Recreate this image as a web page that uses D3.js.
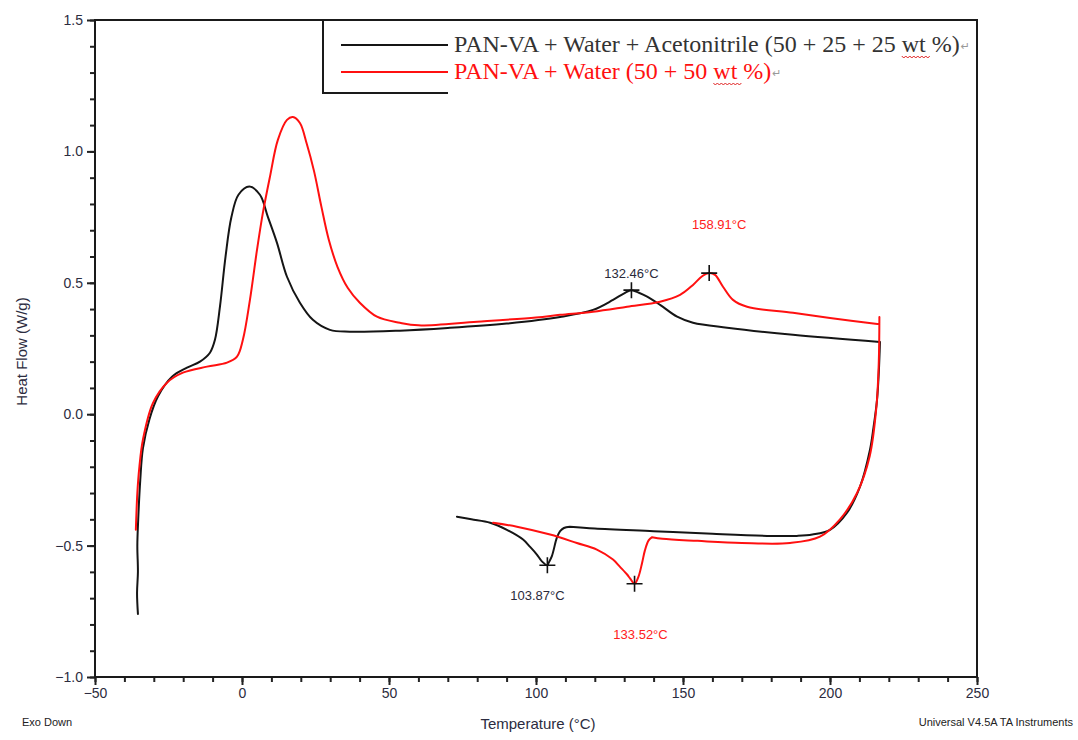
<!DOCTYPE html>
<html>
<head>
<meta charset="utf-8">
<script src="https://cdn.jsdelivr.net/npm/d3@7"></script>
<style>
  body { margin: 0; background: #fff; }
  svg { display: block; }
  .tick text { font-family: Arial, "Liberation Sans", sans-serif; }
</style>
</head>
<body>
<div id="chart"></div>
<script>
// PAN-VA + Water + Acetonitrile, heating run [temperature °C, heat flow W/g]
const acnHeating = [
    [-35.4, -0.76], [-35.7, -0.68], [-35.4, -0.6], [-35.6, -0.5], [-35.3, -0.4], [-34.6, -0.25],
    [-33.7, -0.13], [-31.5, -0.02], [-28.6, 0.067], [-23.8, 0.143], [-18.7, 0.177], [-14.3, 0.2],
    [-10.9, 0.234], [-9.2, 0.283], [-7.5, 0.409], [-5.6, 0.6], [-3.6, 0.75], [-1.2, 0.835],
    [2.5, 0.866], [6.1, 0.835], [8.8, 0.751], [11.9, 0.652], [15.3, 0.523], [19.7, 0.424],
    [24.1, 0.359], [29.9, 0.321], [36.7, 0.314], [53.7, 0.318], [70, 0.328], [90, 0.345],
    [108.2, 0.37], [119.4, 0.397], [126.2, 0.435], [130, 0.46], [132.46, 0.472], [135, 0.462],
    [137.8, 0.447], [142.2, 0.416], [148, 0.371], [153.4, 0.348], [165, 0.329], [187.4, 0.302],
    [217, 0.275]
]
// same sample, cooling run: steep drop and baseline back to the sharp corner
const acnCooling = [
    [217, 0.275], [216.6, 0.16], [216, 0.055], [214.8, -0.05], [213.6, -0.135], [210.2, -0.276],
    [205.8, -0.375], [200, -0.44], [194, -0.458], [188.8, -0.463], [180, -0.463], [160, -0.455],
    [140, -0.445], [120, -0.435], [111.5, -0.428]
]
// crystallisation dip of the same cooling run
const acnDip = [
    [111.5, -0.428], [109.5, -0.433], [108.2, -0.445], [107.1, -0.47], [105.4, -0.54],
    [104.2, -0.568], [103.87, -0.575], [102, -0.56], [100.3, -0.534], [98, -0.505], [95.6, -0.477],
    [90.1, -0.44], [84.4, -0.413], [78, -0.4], [73.1, -0.39]
]
// PAN-VA + Water, heating run
const waterHeating = [
    [-36.1, -0.44], [-35.6, -0.3], [-34.9, -0.2], [-33.7, -0.097], [-30.3, 0.042], [-25.5, 0.12],
    [-20.1, 0.158], [-11.9, 0.181], [-5.1, 0.196], [-1.7, 0.219], [0.3, 0.283], [2.7, 0.435],
    [5.1, 0.625], [7.1, 0.766], [9.5, 0.903], [12.2, 1.044], [15.3, 1.12], [17.3, 1.131],
    [19.7, 1.108], [22, 1.03], [24.5, 0.925], [27, 0.79], [29.5, 0.665], [32.5, 0.56],
    [36, 0.48], [40, 0.425], [45.9, 0.371], [53.7, 0.348], [60, 0.338], [80, 0.352], [100, 0.368],
    [108.2, 0.378], [119.4, 0.39], [131, 0.409], [142.2, 0.428], [149, 0.454], [153.4, 0.492],
    [156.5, 0.525], [158.91, 0.537], [160.9, 0.53], [163.6, 0.485], [167, 0.435], [171.8, 0.409],
    [187.4, 0.386], [200, 0.366], [216.8, 0.342]
]
// same sample, cooling run: drop and baseline
const waterCooling = [
    [216.8, 0.37], [216.6, 0.2], [215.8, 0.03], [213.5, -0.16], [209.2, -0.3], [203.4, -0.4],
    [196.6, -0.466], [186.4, -0.49], [170, -0.49], [155, -0.482], [143, -0.474], [139.5, -0.468]
]
// crystallisation dip
const waterDip = [
    [139.5, -0.468], [138.3, -0.48], [137, -0.52], [136.1, -0.565], [134.8, -0.62], [133.52, -0.645],
    [132, -0.625], [131, -0.61], [128.5, -0.58], [126.2, -0.553], [120.7, -0.515], [113.9, -0.49],
    [104.8, -0.458], [93.5, -0.428], [85.4, -0.413]
]

const seriesNames = ['PAN-VA + Water + Acetonitrile (50 + 25 + 25 wt %)', 'PAN-VA + Water (50 + 50 wt %)']
const seriesColors = ['#151515', '#ff1010']

// peak labels [T, heat flow, label, series index, label dx, label dy]
const peaks = [
    [132.46, 0.472, '132.46°C', 0, 0, -12],
    [158.91, 0.537, '158.91°C', 1, 10, -44],
    [103.87, -0.575, '103.87°C', 0, -10, 35],
    [133.52, -0.645, '133.52°C', 1, 6, 55]
]

const xMajor = [-50, 0, 50, 100, 150, 200, 250]
const yMajor = [-1.0, -0.5, 0.0, 0.5, 1.0, 1.5]

const W = 1078, H = 740
const plot = { left: 95, right: 977, top: 20, bottom: 677 }

const svg = d3.select('#chart').append('svg')
    .attr('width', W)
    .attr('height', H)

const x = d3.scaleLinear().domain([-50, 250]).range([plot.left, plot.right])
const y = d3.scaleLinear().domain([-1.0, 1.5]).range([plot.bottom, plot.top])

const tickColor = '#2c2c40'

// minor ticks
svg.append('g')
    .attr('transform', `translate(0, ${plot.bottom})`)
    .call(d3.axisBottom(x).tickValues(d3.range(-50, 251, 10)).tickSize(5).tickFormat(''))
    .call(g => g.select('.domain').remove())
    .selectAll('line').attr('stroke', '#222').attr('stroke-width', 2)
svg.append('g')
    .attr('transform', `translate(${plot.left}, 0)`)
    .call(d3.axisLeft(y).tickValues(d3.range(-10, 16).map(d => d / 10)).tickSize(5).tickFormat(''))
    .call(g => g.select('.domain').remove())
    .selectAll('line').attr('stroke', '#222').attr('stroke-width', 2)

// major ticks + labels
const xAxis = svg.append('g')
    .attr('transform', `translate(0, ${plot.bottom})`)
    .call(d3.axisBottom(x).tickValues(xMajor).tickSize(8).tickPadding(3).tickFormat(d3.format('d')))
xAxis.select('.domain').remove()
xAxis.selectAll('line').attr('stroke', '#222').attr('stroke-width', 2)
xAxis.selectAll('text').attr('font-size', 14).attr('fill', tickColor)

const yAxis = svg.append('g')
    .attr('transform', `translate(${plot.left}, 0)`)
    .call(d3.axisLeft(y).tickValues(yMajor).tickSize(8).tickPadding(4).tickFormat(d3.format('.1f')))
yAxis.select('.domain').remove()
yAxis.selectAll('line').attr('stroke', '#222').attr('stroke-width', 2)
yAxis.selectAll('text').attr('font-size', 14).attr('fill', tickColor)

// frame
svg.append('rect')
    .attr('x', plot.left)
    .attr('y', plot.top)
    .attr('width', plot.right - plot.left)
    .attr('height', plot.bottom - plot.top)
    .attr('fill', 'none')
    .attr('stroke', '#1a1a1a')
    .attr('stroke-width', 2)

// curves, each drawn as smooth pieces joined at the sharp corners
const line = d3.line()
    .x(d => x(d[0]))
    .y(d => y(d[1]))
    .curve(d3.curveCatmullRom.alpha(0.5))

const curves = [
    [acnHeating, acnCooling, acnDip],
    [waterHeating, waterCooling, waterDip]
]
svg.selectAll('.curve')
    .data(curves).enter()
    .append('path')
    .attr('class', 'curve')
    .attr('fill', 'none')
    .attr('stroke', (d, i) => seriesColors[i])
    .attr('stroke-width', 2)
    .attr('stroke-linejoin', 'round')
    .attr('stroke-linecap', 'round')
    .attr('d', d => d.map(part => line(part)).join(''))

// peak markers
const cross = 8
peaks.forEach(p => {
    const cx = x(p[0]), cy = y(p[1])
    svg.append('path')
        .attr('d', `M${cx - cross},${cy}H${cx + cross}M${cx},${cy - cross}V${cy + cross}`)
        .attr('stroke', '#111')
        .attr('stroke-width', 1.6)
    svg.append('text')
        .attr('x', cx + p[4])
        .attr('y', cy + p[5])
        .attr('text-anchor', 'middle')
        .attr('font-family', 'Arial, "Liberation Sans", sans-serif')
        .attr('font-size', 13)
        .attr('fill', p[3] === 0 ? '#2a2a3a' : '#ff2020')
        .text(p[2])
})

// legend
const legend = svg.append('g')
legend.append('path')
    .attr('d', `M323,${plot.top}V93H448`)
    .attr('fill', 'none')
    .attr('stroke', '#1a1a1a')
    .attr('stroke-width', 2)

const textX = 454
seriesNames.forEach((name, i) => {
    const ly = 45 + i * 27
    legend.append('line')
        .attr('x1', 341).attr('x2', 448)
        .attr('y1', ly).attr('y2', ly)
        .attr('stroke', seriesColors[i])
        .attr('stroke-width', 2.2)
    const t = legend.append('text')
        .attr('x', textX)
        .attr('y', ly + 7)
        .attr('font-family', '"Liberation Serif", "Times New Roman", serif')
        .attr('font-size', 24)
        .attr('fill', seriesColors[i] === '#151515' ? '#333' : seriesColors[i])
        .text(name)
    // spell-check squiggle under "wt"
    const idx = name.indexOf('wt')
    const node = t.node()
    const x0 = textX + node.getSubStringLength(0, idx)
    const x1 = x0 + node.getSubStringLength(idx, 2)
    let dPath = `M${x0},${ly + 11}`
    for (let s = x0; s < x1; s += 4) dPath += `l2,2l2,-2`
    legend.append('path')
        .attr('d', dPath)
        .attr('fill', 'none')
        .attr('stroke', '#e02020')
        .attr('stroke-width', 1)
    const end = textX + node.getComputedTextLength()
    legend.append('text')
        .attr('x', end + 1)
        .attr('y', ly + 5)
        .attr('font-family', '"DejaVu Sans", sans-serif')
        .attr('font-size', 11)
        .attr('fill', '#999')
        .text('↵')
})

// axis titles and footers
svg.append('text')
    .attr('transform', `translate(27, ${(plot.top + plot.bottom) / 2 + 3}) rotate(-90)`)
    .attr('text-anchor', 'middle')
    .attr('font-family', 'Arial, "Liberation Sans", sans-serif')
    .attr('font-size', 15)
    .attr('fill', tickColor)
    .text('Heat Flow (W/g)')

svg.append('text')
    .attr('x', 538)
    .attr('y', 729)
    .attr('text-anchor', 'middle')
    .attr('font-family', 'Arial, "Liberation Sans", sans-serif')
    .attr('font-size', 15)
    .attr('fill', tickColor)
    .text('Temperature (°C)')

svg.append('text')
    .attr('x', 22)
    .attr('y', 726)
    .attr('font-family', 'Arial, "Liberation Sans", sans-serif')
    .attr('font-size', 11)
    .attr('fill', '#222')
    .text('Exo Down')

svg.append('text')
    .attr('x', 1073)
    .attr('y', 726)
    .attr('text-anchor', 'end')
    .attr('font-family', 'Arial, "Liberation Sans", sans-serif')
    .attr('font-size', 11)
    .attr('fill', '#222')
    .text('Universal V4.5A TA Instruments')
</script>
</body>
</html>
